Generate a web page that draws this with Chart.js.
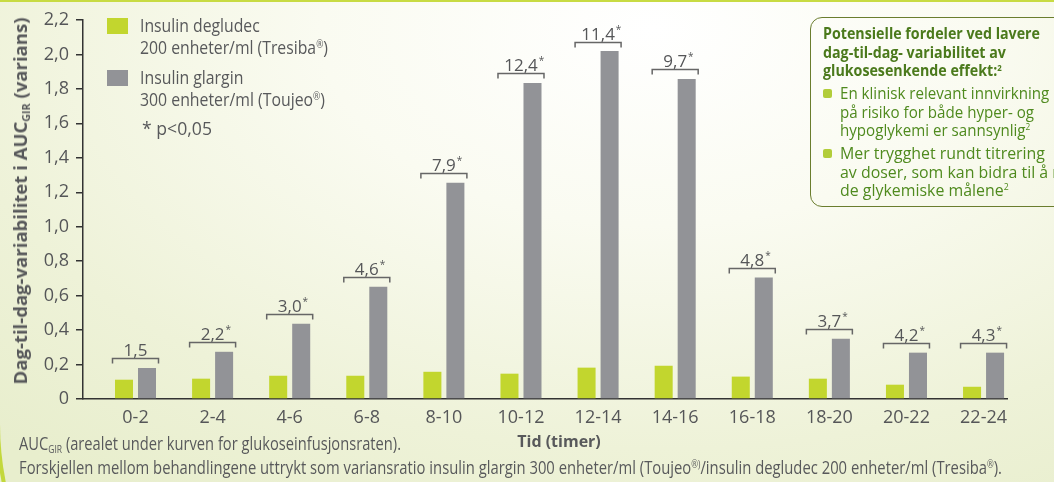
<!DOCTYPE html>
<html lang="no">
<head>
<meta charset="utf-8">
<title>Dag-til-dag-variabilitet</title>
<script src="https://cdn.jsdelivr.net/npm/chart.js@4.4.1/dist/chart.umd.min.js"></script>
<style>
  html, body { margin: 0; padding: 0; }
  body {
    width: 1054px; height: 482px; overflow: hidden; position: relative;
    background: radial-gradient(ellipse 950px 560px at 62% 6%, #ffffff 0%, #fafbf1 35%, #eef2d8 75%, #e8eecd 100%);
    font-family: 'Open Sans', sans-serif;
    color: #58595b;
  }
  #topline { position: absolute; left: 0; top: 0; width: 1054px; height: 2px; background: #c8db43; }
  #corner {
    position: absolute; left: -4px; top: 120px; width: 1200px; height: 600px;
    border-left: 4px solid #c3d83c; border-bottom: 4px solid #c3d83c;
    border-bottom-left-radius: 300px;
  }
  canvas { position: absolute; left: 0; top: 0; }
  sup { font-size: 55%; line-height: 0; position: relative; top: -0.6em; vertical-align: baseline; }
  sub { font-size: 58%; line-height: 0; position: relative; top: 0.3em; vertical-align: baseline; }
  .fit { transform-origin: 0 0; white-space: nowrap; }
  .sq { position: absolute; width: 21px; height: 16px; }
  .leg { position: absolute; left: 140px; font-size: 18px; line-height: 22px; }
  #ytitle {
    position: absolute; left: 20px; top: 201px; white-space: nowrap;
    font-size: 18px; font-weight: bold; line-height: 22px;
  }
  #xtitle {
    position: absolute; left: 559px; top: 441px; transform: translate(-50%, -50%);
    font-size: 16px; font-weight: bold; white-space: nowrap;
  }
  .foot { position: absolute; left: 19px; font-size: 18px; line-height: 24px; }
  #box {
    position: absolute; left: 810px; top: 17px; width: 270px; height: 190px;
    border: 1.5px solid #6a7d2e; border-radius: 12px; box-sizing: border-box;
    padding: 6px 0 0 12px; color: #4f8a1e; overflow: hidden;
  }
  #box .t { font-weight: bold; font-size: 16px; line-height: 18.5px; color: #4b7a1c; margin-bottom: 4.5px; }
  #box .b { position: relative; padding-left: 17px; margin-bottom: 4.5px; height: 55.5px; }
  #box .b .fit { font-size: 17px; line-height: 18.5px; }
  #box .b::before {
    content: ''; position: absolute; left: 0; top: 5px; width: 9px; height: 9px;
    border-radius: 2px; background: #b2cd3a;
  }
</style>
</head>
<body>
<div id="topline"></div>
<div id="corner"></div>
<canvas id="grafico" width="1054" height="482"></canvas>

<div class="sq" style="left:107px;top:18px;background:#c2d62e"></div>
<div class="leg fit" style="top:14px" data-w="188" data-ref="1"><span class="ln">Insulin degludec</span><br><span class="ln">200 enheter/ml (Tresiba<sup>®</sup>)</span></div>
<div class="sq" style="left:107px;top:70px;background:#929397"></div>
<div class="leg fit" style="top:66px" data-w="185" data-ref="1"><span class="ln">Insulin glargin</span><br><span class="ln">300 enheter/ml (Toujeo<sup>®</sup>)</span></div>
<div class="leg fit" style="top:117px;left:142px" data-w="70" data-ref="0"><span class="ln">* p&lt;0,05</span></div>

<div id="ytitle"><span class="ln">Dag-til-dag-variabilitet i AUC<sub>GIR</sub> (varians)</span></div>
<div id="xtitle">Tid (timer)</div>

<div class="foot fit" style="top:431px" data-w="382" data-ref="0"><span class="ln">AUC<sub>GIR</sub> (arealet under kurven for glukoseinfusjonsraten).</span></div>
<div class="foot fit" style="top:455px" data-w="983" data-ref="0"><span class="ln">Forskjellen mellom behandlingene uttrykt som variansratio insulin glargin 300 enheter/ml (Toujeo<sup>®)</sup>/insulin degludec 200 enheter/ml (Tresiba<sup>®</sup>).</span></div>

<div id="box">
  <div class="t fit" data-w="217" data-ref="0"><span class="ln">Potensielle fordeler ved lavere</span><br><span class="ln">dag-til-dag- variabilitet av</span><br><span class="ln">glukosesenkende effekt:<sup>2</sup></span></div>
  <div class="b"><div class="fit" data-w="194" data-ref="1"><span class="ln">En klinisk relevant innvirkning</span><br><span class="ln">på risiko for både hyper- og</span><br><span class="ln">hypoglykemi er sannsynlig<sup>2</sup></span></div></div>
  <div class="b"><div class="fit" data-w="205" data-ref="0"><span class="ln">Mer trygghet rundt titrering</span><br><span class="ln">av doser, som kan bidra til å nå</span><br><span class="ln">de glykemiske målene<sup>2</sup></span></div></div>
</div>

<script>
const tider = ['0-2', '2-4', '4-6', '6-8', '8-10', '10-12', '12-14', '14-16', '16-18', '18-20', '20-22', '22-24'];
const degludec = [0.112, 0.118, 0.135, 0.135, 0.158, 0.147, 0.182, 0.193, 0.13, 0.118, 0.083, 0.071];
const glargin = [0.18, 0.274, 0.437, 0.651, 1.256, 1.835, 2.02, 1.858, 0.705, 0.35, 0.269, 0.269];
const ratio = [1.5, 2.2, 3.0, 4.6, 7.9, 12.4, 11.4, 9.7, 4.8, 3.7, 4.2, 4.3];
const signifikant = [false, true, true, true, true, true, true, true, true, true, true, true];
const yTicks = [0, 0.2, 0.4, 0.6, 0.8, 1.0, 1.2, 1.4, 1.6, 1.8, 2.0, 2.2];

const tekst = '#555658';
const tall = "'Open Sans', sans-serif";
const komma = v => v === 0 ? '0' : v.toFixed(1).replace('.', ',');

// smal skrift: skaler tekstblokkene i bredden
function tilpass() {
  document.querySelectorAll('.fit').forEach(el => {
    el.style.transform = 'none';
    const ln = el.querySelectorAll('.ln')[+el.dataset.ref];
    const k = (+el.dataset.w) / ln.getBoundingClientRect().width;
    el.style.transform = 'scaleX(' + k + ')';
  });
  const yt = document.getElementById('ytitle');
  yt.style.transform = 'none';
  const w = yt.querySelector('.ln').getBoundingClientRect().width;
  yt.style.transform = 'translate(-50%, -50%) rotate(-90deg) scaleX(' + (367 / w) + ')';
}
tilpass();
if (document.fonts) document.fonts.ready.then(tilpass);

// klammer med varians-ratio over hvert par
const ratioPlugin = {
  id: 'ratio',
  afterDatasetsDraw(chart) {
    const ctx = chart.ctx;
    const gronn = chart.getDatasetMeta(0).data;
    const gra = chart.getDatasetMeta(1).data;
    ctx.save();
    gra.forEach((bar, i) => {
      const cx = (gronn[i].x + bar.x) / 2;
      const yb = Math.round(bar.y - 9.5) + 0.5;
      ctx.strokeStyle = '#666';
      ctx.lineWidth = 1.5;
      ctx.beginPath();
      ctx.moveTo(cx - 23, yb + 5);
      ctx.lineTo(cx - 23, yb);
      ctx.lineTo(cx + 23, yb);
      ctx.lineTo(cx + 23, yb + 5);
      ctx.stroke();
      const txt = komma(ratio[i]);
      ctx.fillStyle = tekst;
      ctx.font = '17px ' + tall;
      ctx.textAlign = 'center';
      ctx.textBaseline = 'alphabetic';
      ctx.fillText(txt, cx, yb - 3);
      if (signifikant[i]) {
        const w = ctx.measureText(txt).width;
        ctx.font = '10px ' + tall;
        ctx.textAlign = 'left';
        ctx.fillText('*', cx + w / 2 + 1, yb - 10);
      }
    });
    ctx.restore();
  }
};

new Chart(document.getElementById('grafico'), {
  type: 'bar',
  data: {
    datasets: [
      {
        label: 'Insulin degludec 200 enheter/ml (Tresiba®)',
        data: degludec.map((v, i) => ({ x: i, y: v })),
        backgroundColor: '#c2d62e',
        categoryPercentage: 0.597,
        barPercentage: 0.783
      },
      {
        label: 'Insulin glargin 300 enheter/ml (Toujeo®)',
        data: glargin.map((v, i) => ({ x: i, y: v })),
        backgroundColor: '#929397',
        categoryPercentage: 0.597,
        barPercentage: 0.783
      }
    ]
  },
  options: {
    responsive: false,
    animation: false,
    devicePixelRatio: 1,
    layout: { padding: { top: 20, right: 47, left: 0, bottom: 0 } },
    plugins: { legend: { display: false }, tooltip: { enabled: false } },
    scales: {
      x: {
        type: 'linear',
        min: -0.681,
        max: 11.304,
        bounds: 'data',
        offset: false,
        grid: { display: false },
        border: { display: true, color: '#333', width: 1.5 },
        afterBuildTicks: s => { s.ticks = tider.map((t, i) => ({ value: i })); },
        afterFit: s => { s.height = 83; },
        ticks: {
          autoSkip: false,
          maxRotation: 0,
          padding: 0,
          color: tekst,
          font: { family: tall, size: 18 },
          callback: v => tider[v]
        }
      },
      y: {
        min: 0,
        max: 2.2,
        afterBuildTicks: s => { s.ticks = yTicks.map(v => ({ value: v })); },
        afterFit: s => { s.width = 83; },
        grid: { drawOnChartArea: false, drawTicks: true, tickLength: 7, color: '#333', lineWidth: 1.5 },
        border: { display: true, color: '#333', width: 1.5 },
        ticks: {
          padding: 7,
          color: tekst,
          font: { family: tall, size: 18 },
          callback: v => komma(v)
        }
      }
    }
  },
  plugins: [ratioPlugin]
});
</script>
</body>
</html>
